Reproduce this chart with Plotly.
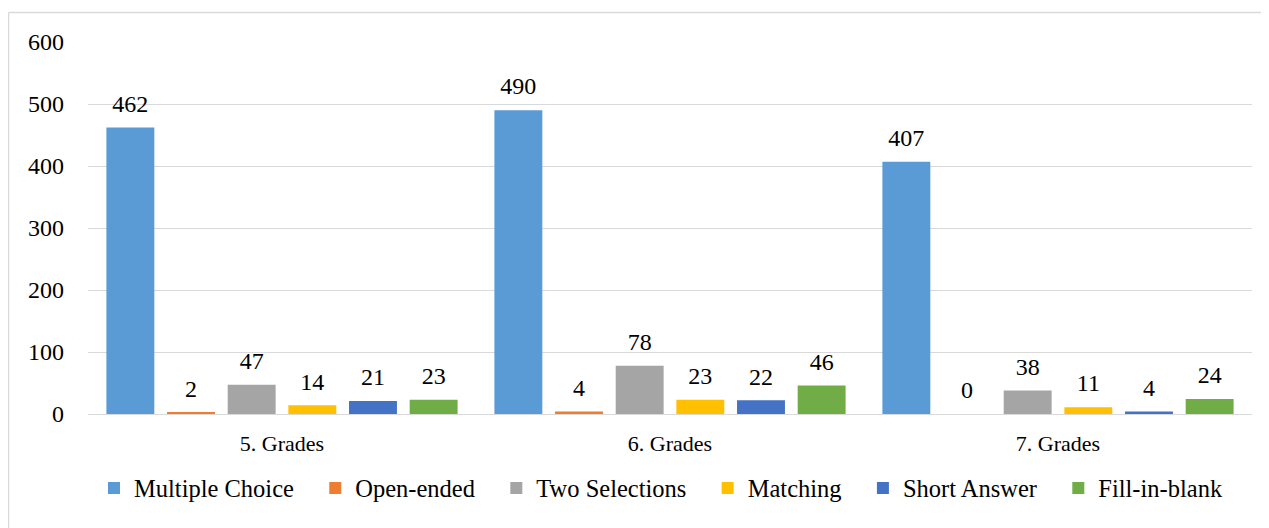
import plotly.graph_objects as go

categories = ["5. Grades", "6. Grades", "7. Grades"]
series_names = ["Multiple Choice", "Open-ended", "Two Selections", "Matching", "Short Answer", "Fill-in-blank"]
multiple_choice = [462, 490, 407]
open_ended = [2, 4, 0]
two_selections = [47, 78, 38]
matching = [14, 23, 11]
short_answer = [21, 22, 4]
fill_in_blank = [23, 46, 24]
colors = ["#5B9BD5", "#ED7D31", "#A5A5A5", "#FFC000", "#4472C4", "#70AD47"]
y_ticks = [0, 100, 200, 300, 400, 500, 600]

series_values = [multiple_choice, open_ended, two_selections, matching, short_answer, fill_in_blank]

FONT = "Liberation Serif"
OFF = 8  # page body margin
W, H = 1269 - OFF, 528 - OFF
L, T = 88 - OFF, 42 - OFF
R = W - (1252 - OFF)
B = H - (414 - OFF)
LEGEND_PAD = "\u2002\u2006"  # extra spacing after each legend entry

fig = go.Figure()
for i, (name, vals, col) in enumerate(zip(series_names, series_values, colors)):
    fig.add_trace(go.Bar(
        name=name + (LEGEND_PAD if i < len(series_names) - 1 else ""),
        x=categories, y=vals, marker=dict(color=col, line=dict(width=0)),
        offsetgroup=str(i),
    ))
for i, (name, vals) in enumerate(zip(series_names, series_values)):
    fig.add_trace(go.Scatter(
        x=categories, y=vals, mode="markers+text", text=[str(v) for v in vals],
        textposition="top center", offsetgroup=str(i), showlegend=False,
        marker=dict(size=14, color="rgba(0,0,0,0)"), cliponaxis=False, hoverinfo="skip",
        textfont=dict(family=FONT, size=24, color="#000000"),
    ))

pw = W - L - R
ph = H - T - B
def px_x(p):
    return (p - OFF - L) / pw
def px_y(p):
    return (H - B - (p - OFF)) / ph

fig.update_layout(
    width=W, height=H,
    margin=dict(l=L, r=R, t=T, b=B, autoexpand=False),
    barmode="group", bargap=0.062, bargroupgap=0.21,
    scattermode="group", scattergap=0.062,
    plot_bgcolor="white", paper_bgcolor="white",
    font=dict(family=FONT, size=22, color="#000000"),
    showlegend=True,
    legend=dict(orientation="h", x=px_x(661), xanchor="center", y=px_y(488), yanchor="middle",
                font=dict(family=FONT, size=24.5, color="#000000"), itemclick=False,
                traceorder="normal", itemwidth=30),
    xaxis=dict(showgrid=False, showline=False, ticks="", tickfont=dict(size=22), automargin=False,
               ticklabelstandoff=14),
    yaxis=dict(range=[0, 600], tickvals=y_ticks, showgrid=True, gridcolor="#D9D9D9", gridwidth=1.3,
               zeroline=True, zerolinecolor="#D9D9D9", zerolinewidth=1.3, showline=False,
               ticks="", tickfont=dict(size=24), ticklabelstandoff=23, automargin=False),
    shapes=[
        dict(type="line", xref="paper", yref="paper", x0=px_x(8.5), x1=px_x(1269), y0=px_y(12.5), y1=px_y(12.5),
             line=dict(color="#D9D9D9", width=1.5)),
        dict(type="line", xref="paper", yref="paper", x0=px_x(8.5), x1=px_x(8.5), y0=px_y(12.5), y1=px_y(528),
             line=dict(color="#D9D9D9", width=1.5)),
    ],
)

fig.write_html("out.html")
